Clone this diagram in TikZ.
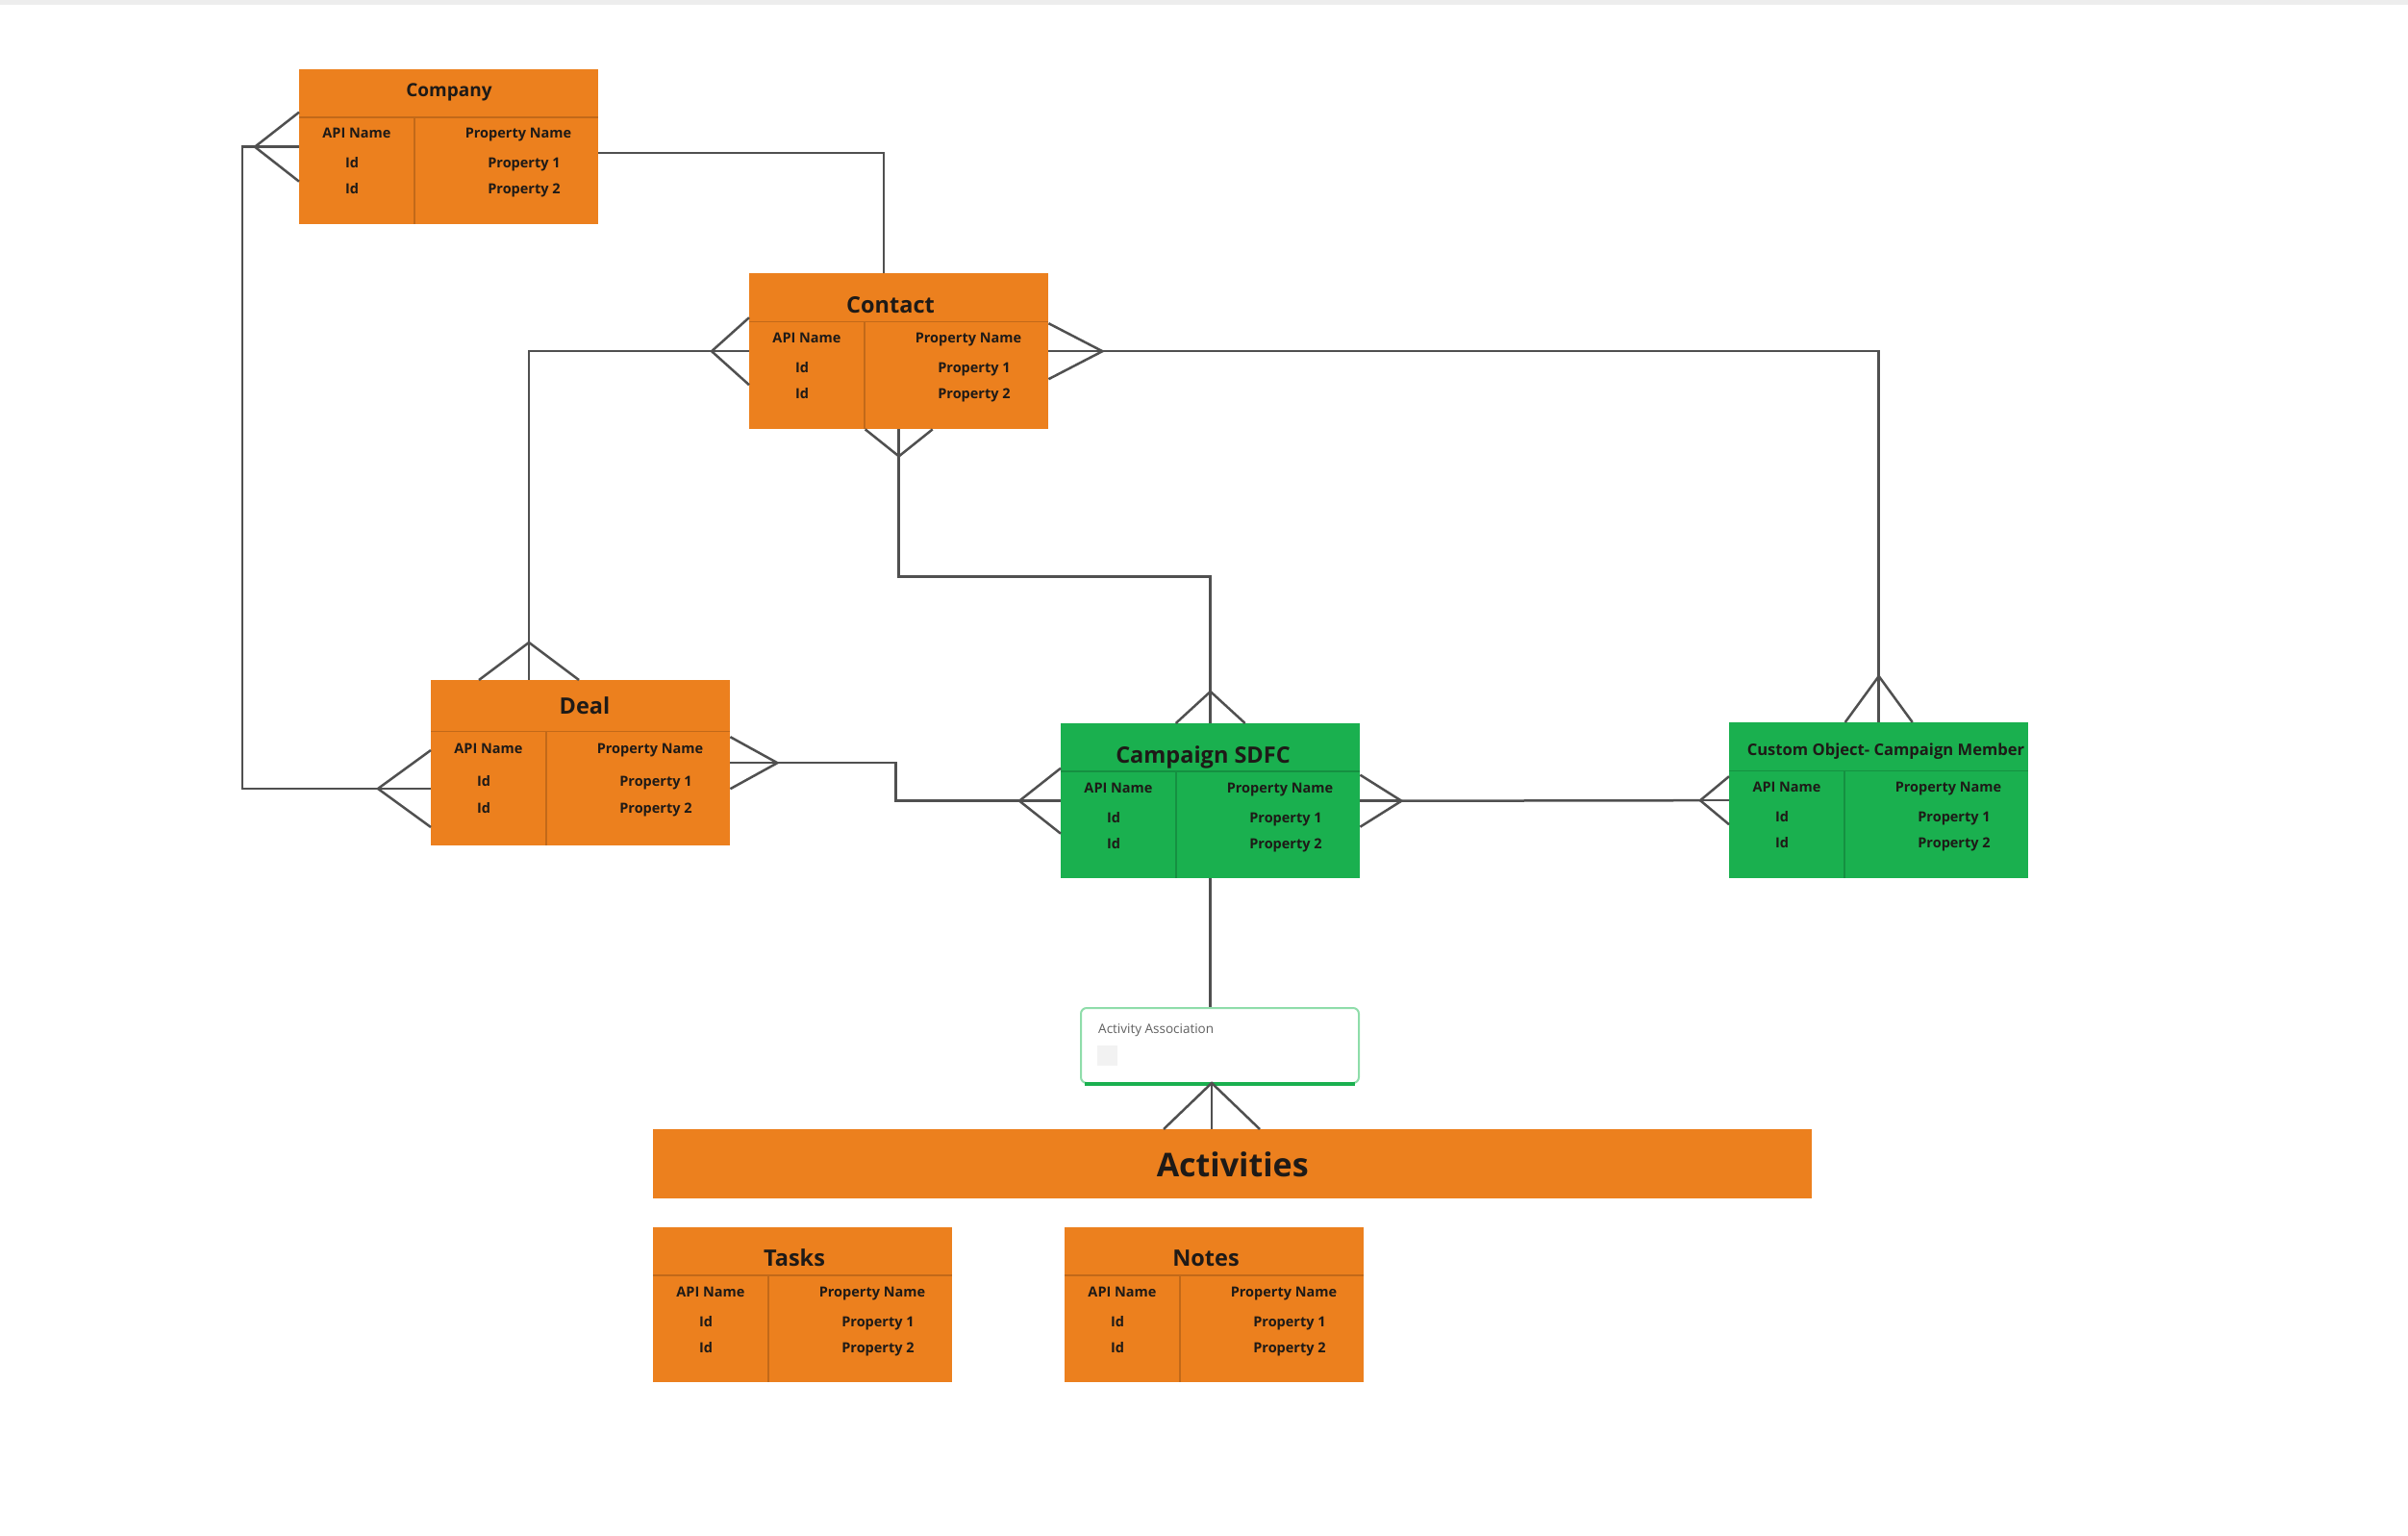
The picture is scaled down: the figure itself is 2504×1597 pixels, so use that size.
\documentclass[tikz,border=0pt]{standalone}
\usepackage{fontspec}
\setmainfont{Open Sans}
\usetikzlibrary{calc}

\definecolor{tblorange}{HTML}{EC801E}
\definecolor{tblgreen}{HTML}{1AB04F}
\definecolor{assocline}{HTML}{8FDDAA}
\definecolor{linkgray}{HTML}{505050}
\definecolor{ink}{HTML}{1E1A17}

\tikzset{
  tablebox/.style={rectangle, inner sep=0, minimum width=311pt},
  tblrule/.style={draw=#1!82!black, line width=1.2pt},
  cell/.style={font=\bfseries\fontsize{14.5}{16}\selectfont, text=ink, inner sep=0, anchor=base},
  smalltitle/.style={font=\bfseries\fontsize{16.6}{18}\selectfont, text=ink, inner sep=0, anchor=base},
  midtitle/.style={font=\bfseries\fontsize{19}{21}\selectfont, text=ink, inner sep=0, anchor=base},
  bigtitle/.style={font=\bfseries\fontsize{23.5}{26}\selectfont, text=ink, inner sep=0, anchor=base},
  link/.style={draw=linkgray, line width=2.5pt},
  assocbox/.style={rectangle, rounded corners=6pt, draw=assocline, line width=2pt, fill=white,
    minimum width=289pt, minimum height=78pt, inner sep=0}
}

% table: name, north west corner, title, fill, title style, title base (from corner), height
\newcommand{\ertable}[7]{%
  \pgfmathsetmacro{\rowk}{#7/161}
  \node[tablebox, fill=#4, minimum height=#7pt, anchor=north west] (#1) at (#2) {};
  \draw[tblrule=#4] ($(#1.north west)+(0,{-50*\rowk})$) -- ($(#1.north east)+(0,{-50*\rowk})$);
  \draw[tblrule=#4] ($(#1.north west)+(120,{-50*\rowk})$) -- ($(#1.south west)+(120,0)$);
  \node[#5] (#1-title) at ($(#1.north west)+(#6)$) {#3};
  \node[cell] (#1-api) at ($(#1.north west)+(60,{-72*\rowk})$) {API Name};
  \node[cell] (#1-prop) at ($(#1.north west)+(228,{-72*\rowk})$) {Property Name};
  \node[cell] (#1-id1) at ($(#1.north west)+(55,{-103*\rowk})$) {Id};
  \node[cell] (#1-id2) at ($(#1.north west)+(55,{-130*\rowk})$) {Id};
  \node[cell] (#1-p1) at ($(#1.north west)+(234,{-103*\rowk})$) {Property 1};
  \node[cell] (#1-p2) at ($(#1.north west)+(234,{-130*\rowk})$) {Property 2};
}

% crow's foot: edge point, tip offset, half spread
\newcommand{\crowfoot}[3]{%
  \coordinate (#1-tip) at ($(#1)+(#2)$);
  \draw[link] ($(#1)+(#3)$) -- (#1-tip) -- ($(#1)-(#3)$);
  \draw[link] (#1-tip) -- (#1);
}

\begin{document}
\begin{tikzpicture}[x=1pt, y=1pt]
\useasboundingbox (0,0) rectangle (2504,-1597);
\fill[gray!14] (0,0) rectangle (2504,-5);

\ertable{company}{311,-72}{Company}{tblorange}{midtitle}{156,-29}{161}
\ertable{contact}{779,-284}{Contact}{tblorange}{bigtitle}{147,-42}{162}
\ertable{deal}{448,-707}{Deal}{tblorange}{bigtitle}{160,-35}{172}
\ertable{campaign}{1103,-752}{Campaign SDFC}{tblgreen}{bigtitle}{148,-41}{161}
\ertable{custom}{1798,-751}{Custom Object- Campaign Member}{tblgreen}{smalltitle}{163,-34}{162}
\ertable{tasks}{679,-1276}{Tasks}{tblorange}{bigtitle}{147,-40}{161}
\ertable{notes}{1107,-1276}{Notes}{tblorange}{bigtitle}{147,-40}{161}

\node[rectangle, inner sep=0, fill=tblorange, minimum width=1205pt, minimum height=72pt,
  anchor=north west] (activities) at (679,-1174) {};
\node[font=\bfseries\fontsize{34}{37}\selectfont, text=ink, inner sep=0, anchor=base]
  (activities-title) at ($(activities.north)+(0,-49)$) {Activities};

\node[assocbox, anchor=north west] (assoc) at (1123,-1047) {};
\draw[tblgreen, line width=3.5pt] ($(assoc.south west)+(5,0)$) -- ($(assoc.south east)+(-5,0)$);
\node[font=\fontsize{13.5}{15}\selectfont, text=gray!75!black, inner sep=0, anchor=base west]
  (assoc-label) at ($(assoc.north west)+(19,-27)$) {Activity Association};
\node[rectangle, fill=gray!10, minimum size=21pt, inner sep=0, anchor=north west]
  (assoc-icon) at ($(assoc.north west)+(18,-40)$) {};

% crow's feet
\coordinate (company-l) at (company.west);
\crowfoot{company-l}{-46,0}{0,36}
\coordinate (contact-l) at (contact.west);
\crowfoot{contact-l}{-39,0}{0,35}
\coordinate (contact-r) at (contact.east);
\crowfoot{contact-r}{56,0}{0,29}
\coordinate (contact-b) at (contact.south);
\crowfoot{contact-b}{0,-28}{35,0}
\coordinate (deal-t) at ($(deal.north west)+(102,0)$);
\crowfoot{deal-t}{0,39}{52,0}
\coordinate (deal-l) at ($(deal.north west)+(0,-113)$);
\crowfoot{deal-l}{-55,0}{0,40}
\coordinate (deal-r) at (deal.east);
\crowfoot{deal-r}{49,0}{0,27}
\coordinate (campaign-t) at (campaign.north);
\crowfoot{campaign-t}{0,33}{36,0}
\coordinate (campaign-l) at (campaign.west);
\crowfoot{campaign-l}{-43,0}{0,34}
\coordinate (campaign-r) at (campaign.east);
\crowfoot{campaign-r}{43,0}{0,27}
\coordinate (custom-l) at (custom.west);
\crowfoot{custom-l}{-30,0}{0,25}
\coordinate (custom-t) at (custom.north);
\crowfoot{custom-t}{0,48}{35,0}
\coordinate (activities-t) at ($(activities.north west)+(581,0)$);
\crowfoot{activities-t}{0,48}{50,0}

% connectors
\coordinate (company-r) at ($(company.north east)+(0,-87)$);
\coordinate (contact-top) at ($(contact.north west)+(140,0)$);
\draw[link] (company-r) -| (contact-top);
\draw[link] (company-l-tip) -- ++(-13,0) |- (deal-l-tip);
\draw[link] (contact-l-tip) -| (deal-t-tip);
\draw[link] (contact-r-tip) -| (custom-t-tip);
\draw[link] (contact-b-tip) -- ++(0,-125) -| (campaign-t-tip);
\draw[link] (deal-r-tip) -- ++(123,0) |- (campaign-l-tip);
\draw[link] (campaign-r-tip) -- (custom-l-tip);
\draw[link] (campaign.south) -- (campaign.south |- assoc.north);
\end{tikzpicture}
\end{document}
